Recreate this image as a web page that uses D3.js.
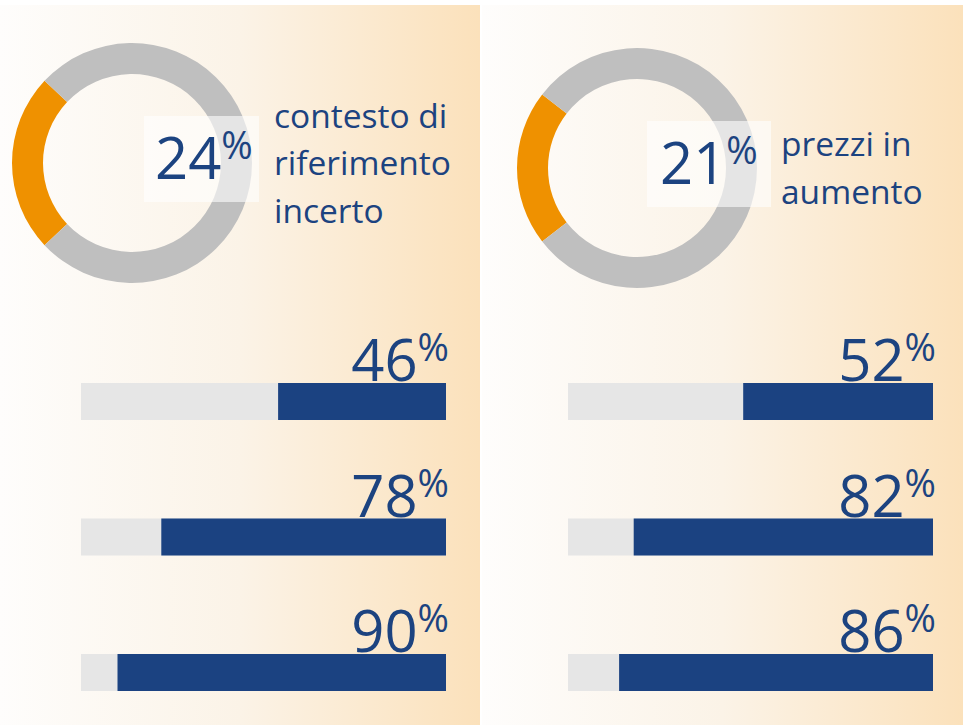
<!DOCTYPE html>
<html>
<head>
<meta charset="utf-8">
<script src="https://cdn.jsdelivr.net/npm/d3@7"></script>
<style>
    body { margin: 0; background: #ffffff; }
    text { font-family: "Open Sans", "Noto Sans", sans-serif; fill: #1c4380; }
</style>
</head>
<body>
<div id="chart"></div>
<script>
// data
const donutValues = [24, 21];
const donutLabels = [["contesto di", "riferimento", "incerto"], ["prezzi in", "aumento"]];
const barValues = [[46, 78, 90], [52, 82, 86]];
const barRows = [0, 1, 2];

class StatPanel {
    constructor(svg, index, x0, width) {
        this.svg = svg;
        this.index = index;
        this.x0 = x0;
        this.width = width;
        this.initVis();
    }

    initVis() {
        let vis = this;

        vis.g = vis.svg.append("g")
            .attr("transform", "translate(" + vis.x0 + ",0)");

        // peach background
        vis.g.append("rect")
            .attr("x", 0)
            .attr("y", 5)
            .attr("width", vis.width)
            .attr("height", 720)
            .attr("fill", "url(#bgGrad)");

        // donut positions differ a little between the two panels
        vis.cx = vis.index === 0 ? 132 : 155;
        vis.cy = vis.index === 0 ? 163 : 168;

        vis.pie = d3.pie()
            .sort(null)
            .value(d => d);
        vis.arc = d3.arc()
            .innerRadius(89)
            .outerRadius(120);

        // bars
        vis.barLeft = vis.index === 0 ? 81 : 86;
        vis.barWidth = 365;
        vis.x = d3.scaleLinear()
            .domain([0, 100])
            .range([0, vis.barWidth]);
        vis.y = d3.scalePoint()
            .domain(barRows)
            .range([383, 654]);

        vis.updateVis();
    }

    updateVis() {
        let vis = this;
        let v = donutValues[vis.index];

        // orange slice is centred on the left side of the ring
        let start = (270 - v * 1.8) * Math.PI / 180;
        vis.pie.startAngle(start).endAngle(start + 2 * Math.PI);

        let donut = vis.g.append("g")
            .attr("transform", "translate(" + vis.cx + "," + vis.cy + ")");

        donut.selectAll(".slice")
            .data(vis.pie([v, 100 - v]))
            .enter().append("path")
            .attr("class", "slice")
            .attr("d", vis.arc)
            .attr("fill", (d, i) => i === 0 ? "#ef9100" : "#bfbfbf");

        // translucent box behind the number
        donut.append("rect")
            .attr("x", vis.index === 0 ? 12 : 10)
            .attr("y", -47)
            .attr("width", vis.index === 0 ? 115 : 124)
            .attr("height", 86)
            .attr("fill", "#ffffff")
            .attr("opacity", 0.6);

        let num = donut.append("text")
            .attr("x", 23)
            .attr("y", 16);
        num.append("tspan")
            .style("font-size", "58px")
            .text(v);
        num.append("tspan")
            .attr("dy", -20)
            .style("font-size", "38px")
            .text("%");

        // topic label
        let lines = donutLabels[vis.index];
        let lineH = 47.5;
        let first = 12 - (lines.length - 1) * lineH / 2;
        donut.selectAll(".topic")
            .data(lines)
            .enter().append("text")
            .attr("class", "topic")
            .attr("x", vis.index === 0 ? 142 : 144)
            .attr("y", (d, i) => first + i * lineH)
            .style("font-size", "33.5px")
            .text(d => d);

        // bars
        let vals = barValues[vis.index];
        let right = vis.barLeft + vis.barWidth;

        vis.g.selectAll(".track")
            .data(vals)
            .enter().append("rect")
            .attr("class", "track")
            .attr("x", vis.barLeft)
            .attr("y", (d, i) => vis.y(i))
            .attr("width", vis.barWidth)
            .attr("height", 37)
            .attr("fill", "#e6e6e6");

        vis.g.selectAll(".bar")
            .data(vals)
            .enter().append("rect")
            .attr("class", "bar")
            .attr("x", d => right - vis.x(d))
            .attr("y", (d, i) => vis.y(i))
            .attr("width", d => vis.x(d))
            .attr("height", 37)
            .attr("fill", "#1b4281");

        let labels = vis.g.selectAll(".val")
            .data(vals)
            .enter().append("text")
            .attr("class", "val")
            .attr("x", right + 3)
            .attr("y", (d, i) => vis.y(i) - 2)
            .attr("text-anchor", "end");
        labels.append("tspan")
            .style("font-size", "58px")
            .text(d => d);
        labels.append("tspan")
            .attr("dy", -20)
            .style("font-size", "38px")
            .text("%");
    }
}

let svg = d3.select("#chart")
    .append("svg")
    .attr("width", 963)
    .attr("height", 725);

let grad = svg.append("defs").append("linearGradient")
    .attr("id", "bgGrad")
    .attr("x1", "0%").attr("x2", "100%")
    .attr("y1", "0%").attr("y2", "0%");
grad.append("stop").attr("offset", "0%").attr("stop-color", "#fefdfc");
grad.append("stop").attr("offset", "50%").attr("stop-color", "#fbf3e7");
grad.append("stop").attr("offset", "100%").attr("stop-color", "#fbe1bb");

new StatPanel(svg, 0, 0, 480);
new StatPanel(svg, 1, 482, 481);
</script>
</body>
</html>
